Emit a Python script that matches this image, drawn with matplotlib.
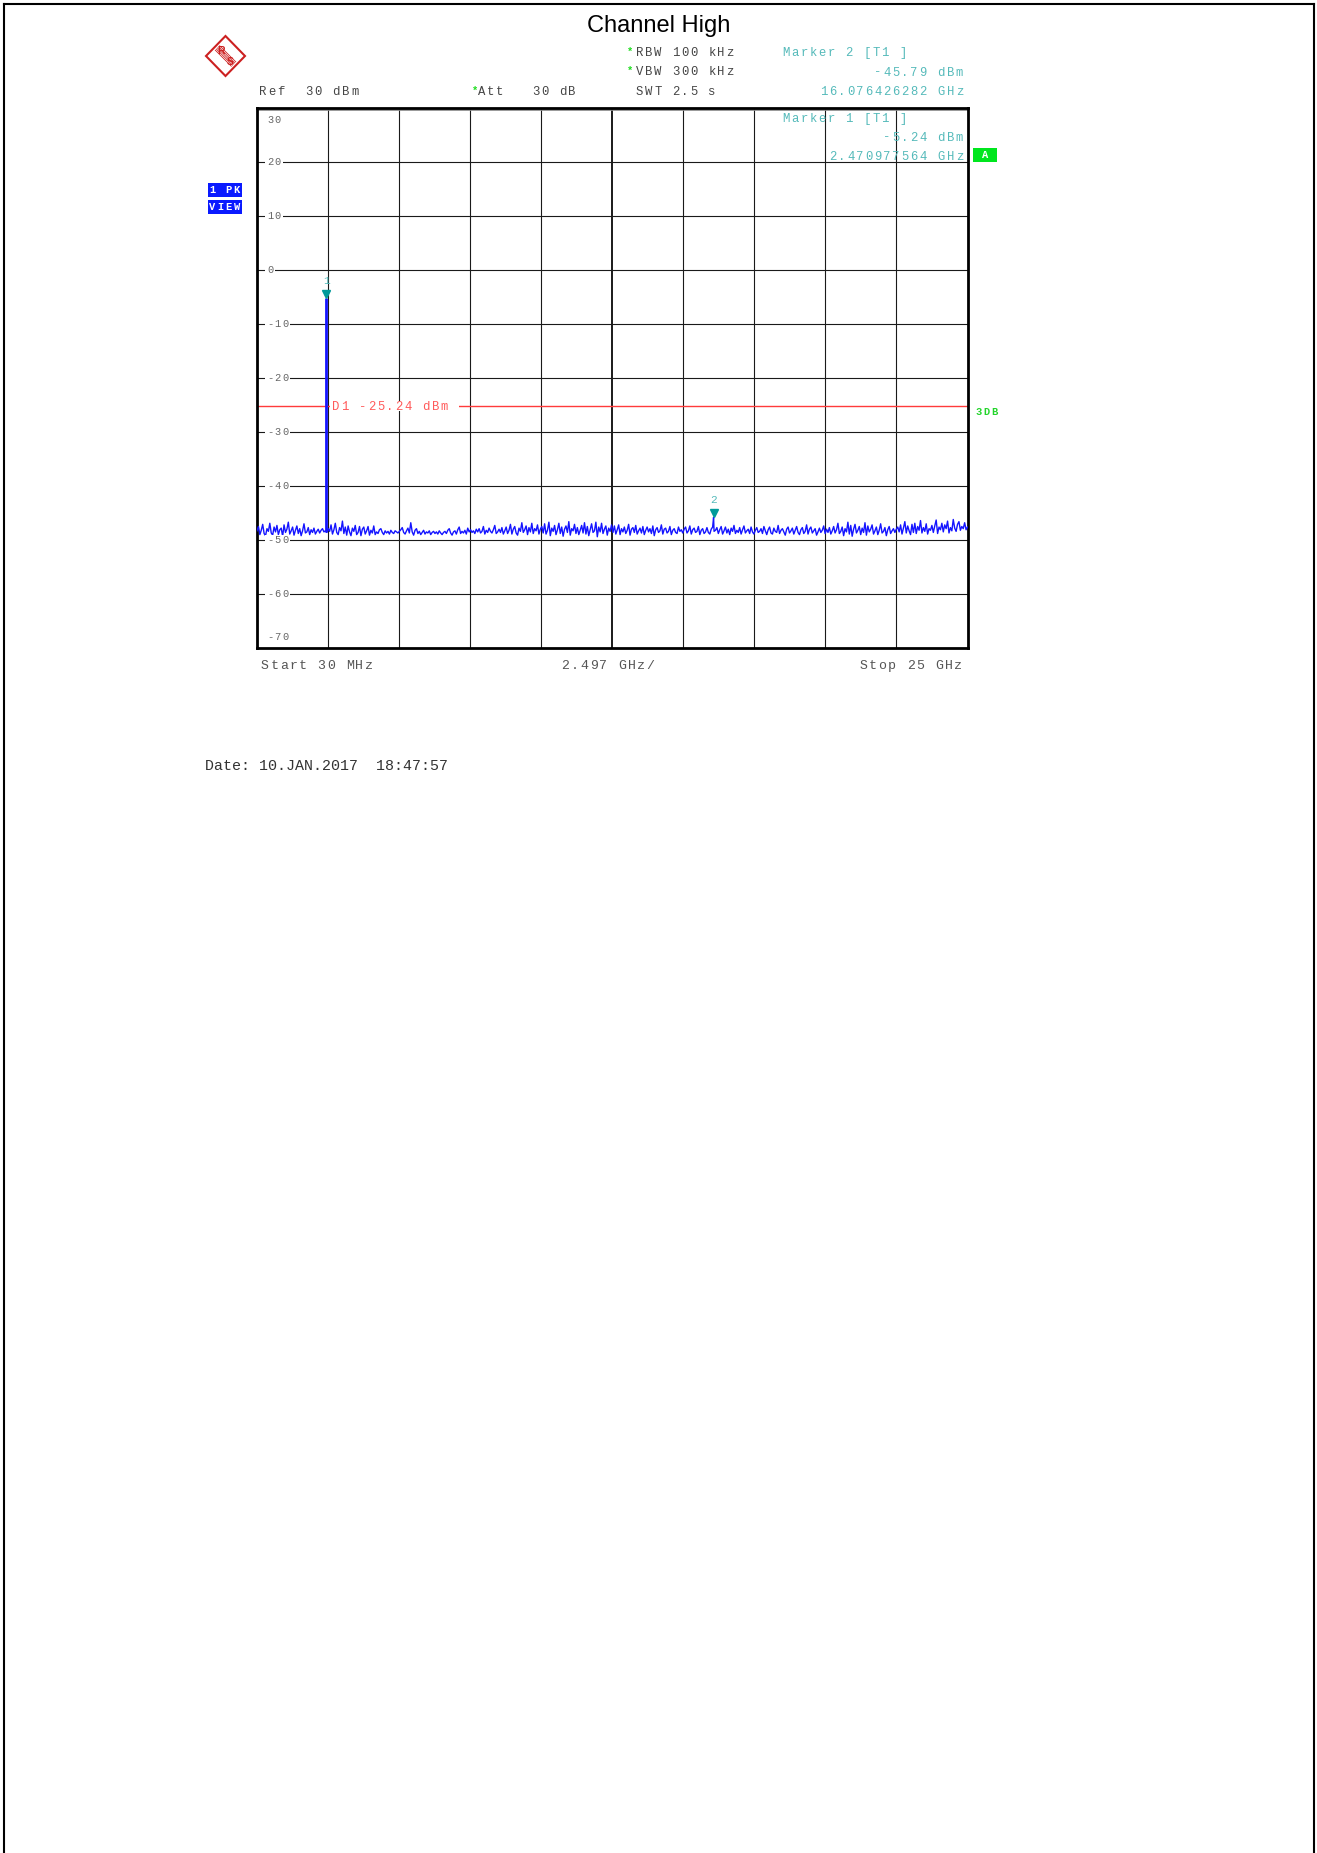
import numpy as np
import matplotlib
matplotlib.use("Agg")
import matplotlib.pyplot as plt
from matplotlib.patches import Rectangle, Polygon
from matplotlib.lines import Line2D
from matplotlib.transforms import offset_copy

# sweep settings (GHz / dBm)
start_ghz = 0.03
stop_ghz = 25.0
div_ghz = 2.497
ref_dbm = 30
bottom_dbm = -70

marker_names = ["1", "2"]
marker_ghz = [2.470977564, 16.076426282]
marker_dbm = [-5.24, -45.79]
d1_dbm = -25.24

y_ticks = [30, 20, 10, 0, -10, -20, -30, -40, -50, -60, -70]

# noise floor, evenly spaced sweep points (25 per 1.25 GHz)
noise_dbm = [
    -48.3, -47.5, -49.0, -48.2, -47.1, -48.8, -49.2, -47.9, -48.4, -46.9, -48.7, -49.1, -47.6,
    -48.5, -47.3, -49.0, -48.1, -47.8, -49.3, -47.2, -48.6, -48.0, -46.7, -48.9, -48.3,
    -47.6, -49.1, -48.2, -47.4, -48.8, -47.9, -49.2, -48.3, -47.0, -48.7, -48.5, -47.7, -49.0,
    -48.1, -48.6, -47.8, -48.9, -48.4, -48.0, -48.7, -48.2, -47.9, -48.5, -48.3, -48.6,
    -47.9, -48.4, -47.2, -48.9, -48.1, -46.9, -48.6, -49.0, -47.7, -48.3, -46.5, -48.8, -47.6,
    -49.1, -47.4, -48.5, -49.2, -47.8, -48.4, -47.3, -49.0, -48.6, -47.5, -49.2, -48.0,
    -47.6, -48.9, -48.3, -47.5, -49.1, -48.2, -48.7, -47.4, -49.0, -48.5, -48.8, -48.1, -47.9,
    -48.6, -49.0, -48.3, -48.7, -48.4, -48.9, -48.2, -48.6, -48.8, -48.3, -48.5, -48.7,
    -48.4, -48.1, -47.7, -48.6, -48.9, -48.3, -47.8, -48.7, -46.8, -48.5, -49.1, -48.2, -47.9,
    -48.8, -48.4, -49.0, -48.6, -48.2, -48.9, -48.5, -48.7, -48.3, -49.0, -48.6, -48.4,
    -48.8, -48.5, -48.9, -48.3, -48.7, -49.0, -48.6, -48.4, -48.8, -48.2, -47.9, -48.7, -49.1,
    -48.5, -48.3, -48.9, -48.1, -47.6, -48.8, -48.4, -48.7, -48.2, -48.9, -47.8, -48.5,
    -48.1, -48.6, -48.3, -48.8, -48.0, -48.5, -47.9, -48.7, -48.4, -47.5, -48.9, -48.2, -48.6,
    -47.8, -48.4, -48.7, -48.1, -47.3, -48.8, -48.5, -48.0, -48.6, -47.7, -48.9, -48.3,
    -47.6, -48.8, -48.2, -47.1, -48.9, -48.0, -47.5, -48.7, -49.1, -47.8, -48.4, -46.8, -48.6,
    -48.1, -47.4, -49.0, -47.7, -48.5, -46.9, -48.8, -47.9, -48.3, -47.2, -48.9, -48.0,
    -47.5, -48.7, -47.0, -48.9, -48.2, -46.7, -49.2, -47.8, -48.4, -47.3, -49.0, -48.1, -46.9,
    -48.8, -47.6, -49.3, -48.0, -47.4, -48.6, -46.6, -49.1, -47.9, -48.3, -47.1, -48.8,
    -47.7, -49.0, -48.2, -47.3, -48.7, -46.8, -48.9, -47.5, -49.2, -48.1, -47.0, -48.6, -48.3,
    -46.7, -49.4, -47.6, -48.5, -46.9, -48.8, -48.0, -47.4, -49.1, -47.8, -48.4, -47.2,
    -48.6, -47.4, -48.9, -48.1, -47.2, -49.0, -47.9, -48.5, -47.6, -48.8, -48.2, -47.1, -49.1,
    -48.0, -47.7, -48.6, -47.3, -48.9, -48.3, -47.8, -48.7, -47.5, -49.0, -48.2, -47.6,
    -48.5, -47.9, -48.8, -47.4, -49.2, -48.1, -47.7, -48.6, -48.3, -47.2, -48.9, -48.0, -47.8,
    -48.7, -48.4, -47.5, -49.0, -48.2, -47.9, -48.6, -48.8, -47.6, -48.4, -48.1, -48.7,
    -48.0, -47.6, -48.7, -48.3, -47.4, -48.9, -48.1, -47.8, -48.6, -48.4, -47.5, -49.0, -48.2,
    -47.9, -48.8, -48.5, -47.7, -48.6, -48.9, -48.0, -47.6, -48.4, -48.2, -47.7, -48.8,
    -48.1, -47.5, -48.9, -48.3, -47.6, -48.7, -48.0, -49.0, -47.8, -48.4, -47.3, -48.8, -48.2,
    -48.6, -47.7, -48.9, -48.1, -47.4, -48.7, -48.3, -48.0, -48.8, -47.6, -48.5, -48.9,
    -48.2, -47.7, -48.6, -48.4, -47.9, -48.8, -47.5, -48.3, -49.0, -48.1, -47.6, -48.7, -48.9,
    -47.8, -48.4, -48.6, -47.3, -48.8, -48.2, -47.9, -48.5, -49.1, -48.0, -47.6, -48.7,
    -48.3, -47.8, -48.9, -48.2, -47.5, -48.6, -49.0, -48.1, -47.7, -48.8, -48.4, -47.2, -48.9,
    -48.0, -47.6, -48.7, -48.3, -47.9, -49.1, -48.5, -47.8, -48.6, -48.2, -47.4, -48.8,
    -48.0, -48.6, -47.7, -48.9, -48.3, -47.5, -48.7, -48.1, -46.9, -48.8, -48.4, -47.6, -49.2,
    -47.9, -48.5, -46.7, -48.9, -47.3, -49.3, -48.0, -47.1, -48.7, -48.2, -47.5, -49.0,
    -47.8, -48.6, -46.8, -49.1, -47.4, -48.5, -48.0, -47.2, -48.9, -48.3, -47.6, -49.0, -48.2,
    -47.0, -48.7, -48.4, -47.7, -49.2, -48.1, -47.5, -48.8, -48.3, -47.9, -48.6, -48.0,
    -47.6, -48.5, -47.2, -48.9, -47.8, -46.6, -48.7, -47.4, -48.3, -49.0, -47.1, -48.6, -46.9,
    -48.8, -47.5, -48.2, -46.4, -48.7, -47.7, -48.4, -47.0, -48.9, -47.9, -48.2, -47.3,
    -48.6, -47.4, -46.3, -48.8, -47.6, -48.1, -46.9, -48.5, -47.2, -47.9, -46.5, -48.7, -47.7,
    -48.3, -46.2, -47.8, -48.4, -47.1, -46.6, -48.2, -47.5, -47.9, -46.8, -48.1, -47.6,
]

W, H = 1317, 1853
MONO = "Liberation Mono"
GREY = "#454545"
CYAN = "#55baba"
TEAL = "#009a9a"
BLUE = "#1414ff"

fig = plt.figure(figsize=(W / 100, H / 100), dpi=100)


def fx(x):
    return x / W


def fy(y):
    return 1 - y / H


def box(x0, y0, x1, y1, color="white"):
    fig.add_artist(Rectangle((fx(x0), fy(y1)), (x1 - x0) / W, (y1 - y0) / H,
                             transform=fig.transFigure, facecolor=color,
                             edgecolor="none", zorder=1))


def spaced(x, y, s, pitch, size, color, ha="left", weight="normal"):
    # fixed-pitch text, one glyph at a time (instrument screen font)
    g = 0.6 * size * 100 / 72
    cap = 0.58 * size * 100 / 72
    n = len(s)
    if ha == "left":
        c0 = x + g / 2
    elif ha == "right":
        c0 = x - g / 2 - (n - 1) * pitch
    else:
        c0 = x - (n - 1) * pitch / 2
    for i, ch in enumerate(s):
        if ch != " ":
            fig.text(fx(c0 + i * pitch), fy(y + cap / 2), ch, ha="center", va="baseline",
                     fontsize=size, family=MONO, color=color, fontweight=weight)
    return c0 - g / 2, c0 + (n - 1) * pitch + g / 2


# page frame
for xs, ys in [([4, 4], [4, H + 5]), ([4, 1314], [4, 4]), ([1314, 1314], [4, H + 5])]:
    fig.add_artist(Line2D([fx(v) for v in xs], [fy(v) for v in ys],
                          transform=fig.transFigure, color="black", lw=1.5))

# 1. Screen axes
ax = fig.add_axes([fx(257), fy(648), (967.5 - 257) / W, (648 - 108) / H])
ax.set_xlim(start_ghz, stop_ghz)
ax.set_ylim(bottom_dbm, ref_dbm)
ax.set_xticks([])
ax.set_yticks([])
for sp in ax.spines.values():
    sp.set_linewidth(2)
    sp.set_color("black")

for k in range(1, 10):
    ax.axvline(start_ghz + k * div_ghz, color="#1a1a1a", lw=1.4 if k == 5 else 0.8, zorder=1)
for v in y_ticks[1:-1]:
    ax.axhline(v, color="#1a1a1a", lw=0.8, zorder=1)
ax.axhline(ref_dbm - 0.45, color="#888888", lw=1.2, zorder=1)

ax.axhline(d1_dbm, color="#ff3b3b", lw=1.0, zorder=1.5)

# 2. Trace: noise floor plus the small marker 2 peak
freq = np.linspace(start_ghz, stop_ghz, len(noise_dbm))
all_f = np.concatenate([freq, marker_ghz[1:]])
all_y = np.concatenate([noise_dbm, marker_dbm[1:]])
order = np.argsort(all_f)
ax.plot(all_f[order], all_y[order], color=BLUE, lw=1.0, zorder=3)

# carrier spike (marker 1) drawn as a single solid bin
floor_1 = np.interp(marker_ghz[0], freq, noise_dbm)
ax.vlines(marker_ghz[0], floor_1, marker_dbm[0], color=BLUE, lw=2.0, zorder=3)

tri = offset_copy(ax.transData, fig=fig, x=0, y=4.2, units="dots")
ax.plot(marker_ghz, marker_dbm, "v", ms=6, color=TEAL, transform=tri, zorder=4)
lab = offset_copy(ax.transData, fig=fig, x=0, y=17, units="dots")
for name, f, v in zip(marker_names, marker_ghz, marker_dbm):
    ax.text(f, v, name, transform=lab, ha="center", va="center", fontsize=8,
            family=MONO, color=CYAN, zorder=5)


def to_px(f, v):
    X, Y = ax.transData.transform((f, v))
    return X, H - Y


# y labels inside the screen
for v in y_ticks:
    _, py = to_px(start_ghz, v)
    if v == ref_dbm:
        py += 12
    elif v == bottom_dbm:
        py -= 11
    x0, x1 = spaced(267, py, str(v), 7.6, 7.5, "#666666")
    box(x0 - 2, py - 5, x1 + 2, py + 5)

# display line label
_, py = to_px(start_ghz, d1_dbm)
box(330, py - 5, 459, py + 5)
spaced(332, py, "D1 -25.24 dBm", 9.05, 8.8, "#ff5a5a")
spaced(975, py + 6, "3DB", 7.9, 7.5, "#22d42a", weight="bold")

# 3. Header
fig.text(fx(659), fy(32), "Channel High", ha="center", va="baseline", fontsize=17,
         family="Liberation Sans", color="black")

spaced(259, 91, "Ref  30 dBm", 9.2, 8.8, GREY)
spaced(472, 91, "*", 9, 7.5, "#22dd22", weight="bold")
spaced(478, 91, "Att   30 dB", 9.05, 8.8, GREY)
spaced(627, 52, "*", 9, 7.5, "#22dd22", weight="bold")
spaced(636, 52, "RBW 100 kHz", 9.05, 8.8, GREY)
spaced(627, 71, "*", 9, 7.5, "#22dd22", weight="bold")
spaced(636, 71, "VBW 300 kHz", 9.05, 8.8, GREY)
spaced(636, 91, "SWT 2.5 s", 9.05, 8.8, GREY)

spaced(782, 52, "Marker 2 [T1 ]", 9.05, 8.8, CYAN)
spaced(963, 72, "-45.79 dBm", 9.05, 8.8, CYAN, ha="right")
spaced(963, 91, "16.076426282 GHz", 9.05, 8.8, CYAN, ha="right")
spaced(782, 118, "Marker 1 [T1 ]", 9.05, 8.8, CYAN)
spaced(963, 137, "-5.24 dBm", 9.05, 8.8, CYAN, ha="right")
spaced(963, 156, "2.470977564 GHz", 9.05, 8.8, CYAN, ha="right")

box(973, 148, 997, 162, "#00e61e")
spaced(985, 155, "A", 8, 7.5, "white", ha="center", weight="bold")

box(208, 183, 242, 197, "#0a1aff")
spaced(209, 190, "1 PK", 8.2, 7.5, "white", weight="bold")
box(208, 200, 242, 214, "#0a1aff")
spaced(209, 207, "VIEW", 8.2, 7.5, "white", weight="bold")

# R&S logo
cx, cy = 225.5, 56
fig.add_artist(Polygon([(fx(cx), fy(cy - 20)), (fx(cx + 19.5), fy(cy)), (fx(cx), fy(cy + 20)),
                        (fx(cx - 19.5), fy(cy))], closed=True, transform=fig.transFigure,
                       facecolor="none", edgecolor="#cc2020", lw=1.5))
for d in (-2.2, -1.1, 0, 1.1, 2.2):
    fig.add_artist(Line2D([fx(cx - 8 + d), fx(cx + 8 + d)], [fy(cy - 8 - d), fy(cy + 8 - d)],
                          transform=fig.transFigure, color="#cc2020", lw=0.6))
fig.text(fx(cx - 5), fy(cy - 5), "R", ha="center", va="center", fontsize=7.5,
         fontweight="bold", color="#cc2020", family="Liberation Sans")
fig.text(fx(cx + 5), fy(cy + 6), "S", ha="center", va="center", fontsize=7.5,
         fontweight="bold", color="#cc2020", family="Liberation Sans")

# 4. Footer
spaced(261, 665, "Start 30 MHz", 9.45, 9.5, "#555555")
spaced(608, 665, "2.497 GHz/", 9.45, 9.5, "#555555", ha="center")
spaced(962, 665, "Stop 25 GHz", 9.45, 9.5, "#555555", ha="right")

fig.text(fx(205), fy(770), "Date: 10.JAN.2017  18:47:57", ha="left", va="baseline",
         fontsize=10.85, family=MONO, color="#333333")

fig.savefig("out.png", dpi=100)
